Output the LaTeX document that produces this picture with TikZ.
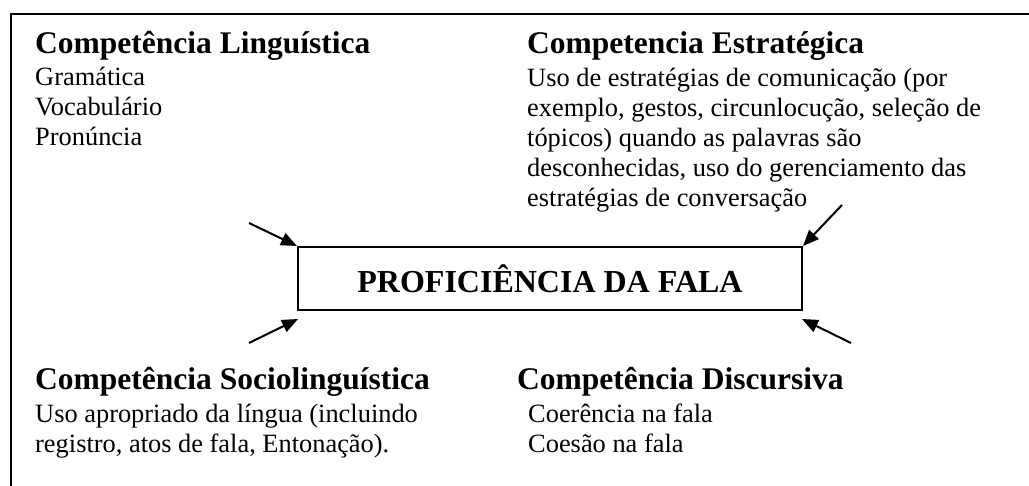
\documentclass[tikz,border=0pt]{standalone}
\usepackage{fontspec}
\setmainfont{Liberation Serif}
\usetikzlibrary{arrows.meta}
\newcommand{\linesblock}[1]{\begin{tabular}[t]{@{}l@{}}#1\end{tabular}}
\tikzset{
  titletext/.style={anchor=base west, inner sep=0pt, font=\fontsize{31.5}{36}\selectfont\bfseries},
  bodytext/.style={anchor=base west, inner sep=0pt, font=\fontsize{26.4}{30}\selectfont},
  centerbox/.style={draw, line width=2pt, minimum width=504pt, minimum height=63pt, inner sep=0pt, font=\fontsize{32}{36}\selectfont\bfseries},
  feed/.style={line width=2pt, -{Triangle[length=16pt,width=13pt]}},
  frameline/.style={line width=2pt}
}
\begin{document}
\begin{tikzpicture}[x=1pt,y=-1pt]
\useasboundingbox (0,0) rectangle (1029,486);
\draw[frameline] (10.5,487) -- (10.5,14) -- (1030,14);

\node[titletext] (ling) at (35,53.5) {Competência Linguística};
\node[bodytext] (lingb) at (35,86) {\linesblock{Gramática\\Vocabulário\\Pronúncia}};

\node[titletext] (estr) at (527,54) {Competencia Estratégica};
\node[bodytext] (estrb) at (527,87) {\linesblock{Uso de estratégias de comunicação (por\\exemplo, gestos, circunlocução, seleção de\\tópicos) quando as palavras são\\desconhecidas, uso do gerenciamento das\\estratégias de conversação}};

\node[centerbox] (prof) at (550,278.5) {PROFICIÊNCIA DA FALA};

\node[titletext] (soc) at (35,390) {Competência Sociolinguística};
\node[bodytext] (socb) at (35,422.5) {\linesblock{Uso apropriado da língua (incluindo\\registro, atos de fala, Entonação).}};

\node[titletext] (disc) at (517,390) {Competência Discursiva};
\node[bodytext] (discb) at (528,422.5) {\linesblock{Coerência na fala\\Coesão na fala}};

\coordinate (s1) at (249,223);
\coordinate (s2) at (842,205);
\coordinate (s3) at (249,343);
\coordinate (s4) at (851,343);
\coordinate (t3) at (298,319);
\coordinate (t4) at (802,319);

\draw[feed] (s1) -- (prof.north west);
\draw[feed] (s2) -- (prof.north east);
\draw[feed] (s3) -- (t3);
\draw[feed] (s4) -- (t4);
\end{tikzpicture}
\end{document}
